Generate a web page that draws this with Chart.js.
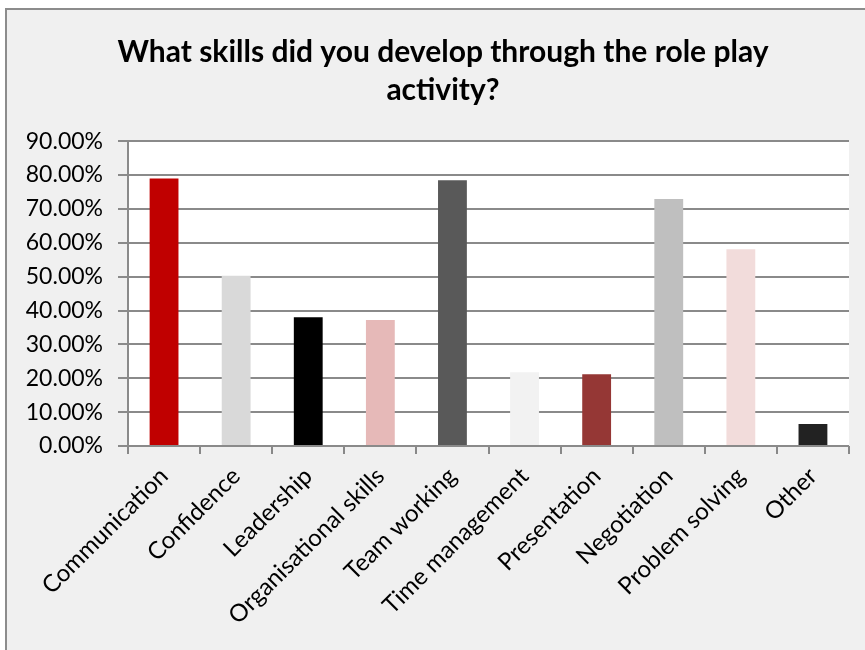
<!DOCTYPE html>
<html>
<head>
<meta charset="utf-8">
<script src="https://cdn.jsdelivr.net/npm/chart.js@4"></script>
<style>
    body { margin: 0; background: #ffffff; }
    #box {
        position: absolute;
        left: 5px;
        top: 8px;
        width: 860px;
        height: 642px;
        border-left: 2px solid #8c8c8c;
        border-top: 2px solid #8c8c8c;
        background: #f0f0f0;
    }
    #skillsChart { position: absolute; left: 0; top: 0; }
</style>
</head>
<body>
<div id="box">
    <canvas id="skillsChart" width="858" height="640"></canvas>
</div>
<script>
const categories = [
    "Communication", "Confidence", "Leadership", "Organisational skills", "Team working",
    "Time management", "Presentation", "Negotiation", "Problem solving", "Other"
];
const percentages = [79.0, 50.3, 38.0, 37.2, 78.5, 21.8, 21.2, 72.9, 58.1, 6.5];
const barColors = [
    "#c00000", "#d9d9d9", "#000000", "#e6b9b8", "#595959",
    "#f2f2f2", "#953735", "#bfbfbf", "#f2dcdb", "#222222"
];
const titleLines = ["What skills did you develop through the role play", "activity?"];

// white plot area on the grey chart background
const plotBackground = {
    id: "plotBackground",
    beforeDraw(chart) {
        const { ctx, chartArea } = chart;
        ctx.save();
        ctx.fillStyle = "#ffffff";
        ctx.fillRect(chartArea.left, chartArea.top, chartArea.right - chartArea.left, chartArea.bottom - chartArea.top);
        ctx.restore();
    }
};

// nudge the title a little to the right, like the original
const titleShift = {
    id: "titleShift",
    afterLayout(chart) {
        if (chart.titleBlock) chart.titleBlock.left += 30;
    }
};

Chart.defaults.font.family = "Lato, 'Open Sans', sans-serif";
Chart.defaults.color = "#000000";

new Chart(document.getElementById("skillsChart"), {
    type: "bar",
    data: {
        labels: categories,
        datasets: [{
            data: percentages,
            backgroundColor: barColors,
            barPercentage: 0.4,
            categoryPercentage: 1.0
        }]
    },
    options: {
        responsive: false,
        animation: false,
        layout: { padding: { left: 0, right: 16, top: 0, bottom: 0 } },
        plugins: {
            legend: { display: false },
            tooltip: { enabled: false },
            title: {
                display: true,
                text: titleLines,
                color: "#000000",
                font: { size: 30, weight: "bold", lineHeight: 1.27 },
                padding: { top: 23, bottom: 32 }
            }
        },
        scales: {
            x: {
                afterFit(scale) { scale.height = 204; },
                grid: {
                    offset: true,
                    drawOnChartArea: false,
                    color: "#888888",
                    lineWidth: 2,
                    tickLength: 8
                },
                border: { display: false },
                ticks: {
                    font: { size: 24 },
                    minRotation: 45,
                    maxRotation: 45,
                    autoSkip: false,
                    padding: 8
                }
            },
            y: {
                min: 0,
                max: 90,
                afterFit(scale) { scale.width = 121; },
                grid: {
                    color: "#8a8a8a",
                    lineWidth: 2,
                    tickLength: 10
                },
                border: { color: "#8a8a8a", width: 2 },
                ticks: {
                    stepSize: 10,
                    padding: 15,
                    font: { size: 23 },
                    callback: v => v.toFixed(2) + "%"
                }
            }
        }
    },
    plugins: [plotBackground, titleShift]
});
</script>
</body>
</html>
